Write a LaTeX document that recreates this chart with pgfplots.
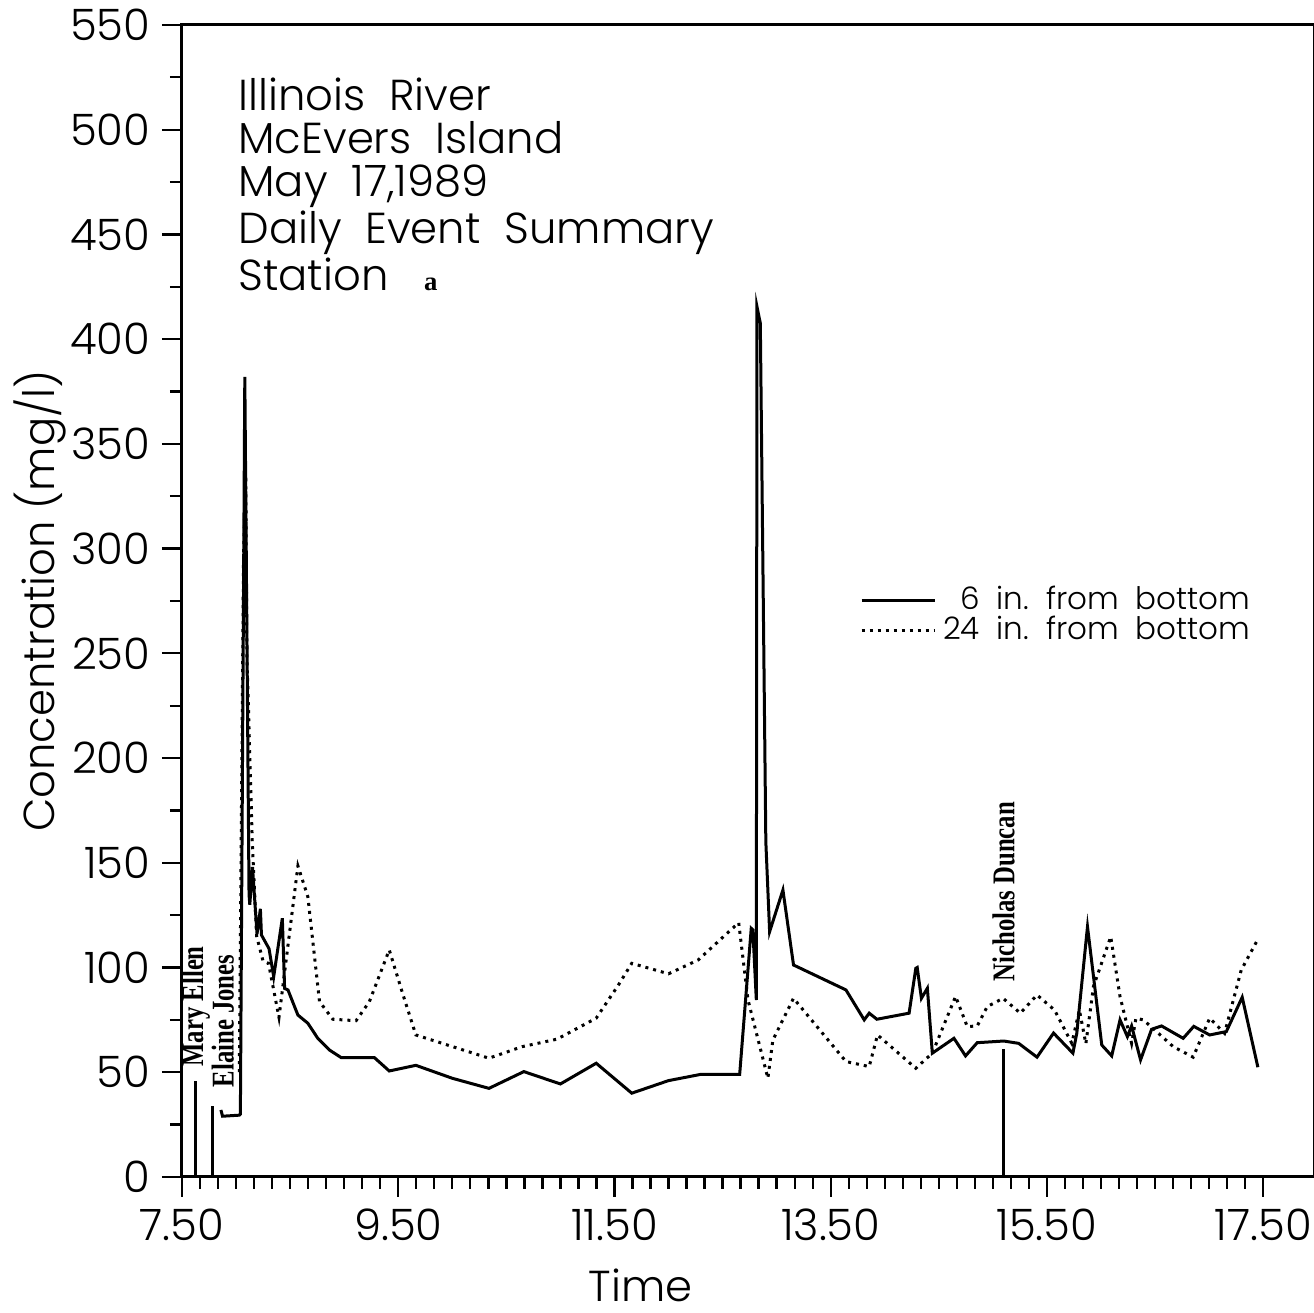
\documentclass[border=0pt]{standalone}
\usepackage{pgfplots}
\pgfplotsset{compat=1.18}
\usepackage{fontspec}
\setmainfont{Poppins}[UprightFont={* Light}]
\newfontfamily\annfont{Liberation Serif}
\newcommand\ann[1]{\scalebox{0.78}[1]{#1}}

\begin{document}
\begin{tikzpicture}
\begin{axis}[
  width=339.6pt, height=345.6pt, scale only axis,
  xmin=7.5, xmax=17.97, ymin=0, ymax=550,
  xtick={7.5,9.5,11.5,13.5,15.5,17.5},
  minor x tick num=11,
  ytick={0,50,...,550},
  minor y tick num=1,
  tick align=outside, xtick pos=bottom, ytick pos=left,
  major tick length=6pt, minor tick length=3.6pt,
  axis line style={line width=0.9pt},
  every tick/.style={black, line width=0.7pt},
  tick label style={font=\fontsize{13}{15}\selectfont},
  /pgf/number format/assume math mode=true,
  xticklabel style={/pgf/number format/.cd, fixed, fixed zerofill, precision=2},
  yticklabel style={/pgf/number format/.cd, fixed, precision=0},
  ylabel={Concentration (mg/l)},
  every axis y label/.style={at={(axis description cs:-0.1254,0.5)}, rotate=90, anchor=center,
    font=\fontsize{13}{15}\selectfont},
  xlabel={Time},
  every axis x label/.style={at={(axis description cs:0.405,0)}, anchor=north, yshift=-24pt,
    font=\fontsize{13}{15}\selectfont},
  legend style={at={(axis cs:17.45,285.5)}, anchor=north east, draw=none, fill=none,
    font=\fontsize{9.3}{9.5}\selectfont, row sep=-3.5pt, inner sep=0pt},
  legend cell align=right,
  legend image code/.code={\draw[#1] (0pt,0pt) -- (22pt,0pt);},
  clip=false,
]
% 6 in. from bottom
\addplot[black, line width=0.9pt] coordinates {
(7.860,32) (7.875,29) (8.030,29.5) (8.040,30) (8.081,382) (8.120,135) (8.127,130)
(8.152,148) (8.194,116) (8.225,128) (8.235,115.5) (8.305,109) (8.348,95.6)
(8.428,123.5) (8.449,90) (8.480,89.3) (8.572,77.3) (8.664,73.4) (8.756,66.2)
(8.864,60.6) (8.972,57) (9.279,57) (9.417,50.6) (9.663,53.3) (10.001,47.1)
(10.339,42.3) (10.662,50.3) (11.000,44.4) (11.331,54.3) (11.66,40) (12.0,46)
(12.3,49) (12.658,49) (12.765,118.7) (12.78,118) (12.812,84.5) (12.818,415.5)
(12.849,407.6) (12.90,160) (12.935,117.1) (13.058,137) (13.156,101.2)
(13.641,89.3) (13.810,75) (13.856,78.2) (13.927,75.3) (14.225,78.2)
(14.287,99.6) (14.30,100) (14.339,85.3) (14.394,90.1) (14.440,59.1)
(14.640,66.2) (14.747,57.8) (14.855,64.1) (15.100,64.9) (15.238,63.8)
(15.408,57.2) (15.561,68.7) (15.740,59.1) (15.776,68.6) (15.875,119.5)
(16.007,63) (16.099,57.8) (16.176,75) (16.244,67) (16.283,72.1) (16.366,55.9)
(16.468,70.5) (16.560,72.1) (16.760,66.2) (16.858,71.9) (17.005,67.8)
(17.159,69.4) (17.306,85.8) (17.451,52.4)
};
\addlegendentry{6\ \ in.\ \ from\ \ bottom}
% 24 in. from bottom
\addplot[black, line width=0.9pt, dash pattern=on 0.9pt off 1.5pt] coordinates {
(8.03,50) (8.07,300) (8.09,335) (8.10,250) (8.15,160) (8.19,115) (8.25,103)
(8.30,102) (8.397,76.2) (8.572,148.5) (8.664,133.8) (8.772,83.7) (8.895,75.3)
(9.110,74.6) (9.233,83.7) (9.417,108.4) (9.540,87.7) (9.663,67.8) (10.339,56.7)
(10.646,62.2) (10.969,65.8) (11.331,75.8) (11.537,91.7) (11.66,102) (12.0,97)
(12.274,103.6) (12.649,121.4) (12.735,84.5) (12.919,47.1) (12.965,65.4)
(13.156,85.3) (13.641,55.1) (13.856,52.7) (13.933,67.8) (14.287,51.9)
(14.440,59.1) (14.655,86.2) (14.763,71.8) (14.855,72.1) (14.947,81.3)
(15.094,85.3) (15.254,78.2) (15.408,86.9) (15.570,79.7) (15.730,63.8)
(15.800,79.7) (15.860,63.6) (15.930,90.9) (16.090,114.7) (16.176,86.1)
(16.283,63.8) (16.323,75.8) (16.391,75) (16.514,69.4) (16.668,62.2)
(16.852,57.2) (17.005,75.8) (17.143,68.6) (17.297,98.8) (17.451,113.5)
};
\addlegendentry{24\ \ in.\ \ from\ \ bottom}
% event markers
\addplot[black, line width=0.9pt, forget plot] coordinates {(7.626,0) (7.626,46)};
\addplot[black, line width=0.9pt, forget plot] coordinates {(7.779,0) (7.779,34)};
\addplot[black, line width=0.9pt, forget plot] coordinates {(15.10,0) (15.10,61)};

\node[rotate=90, anchor=west, inner sep=0pt, font=\annfont\bfseries\fontsize{9.5}{10}\selectfont]
  at (axis cs:7.626,52.5) {\ann{Mary Ellen}};
\node[rotate=90, anchor=west, inner sep=0pt, font=\annfont\bfseries\fontsize{9.5}{10}\selectfont]
  at (axis cs:7.878,42.5) {\ann{Elaine Jones}};
\node[rotate=90, anchor=west, inner sep=0pt, font=\annfont\bfseries\fontsize{9.5}{10}\selectfont]
  at (axis cs:15.10,93.2) {\ann{Nicholas Duncan}};

\node[anchor=north west, align=left, inner sep=0pt, font=\fontsize{13}{12.9}\selectfont]
  at (axis cs:8.016,525) {Illinois\ \ River\\McEvers\ \ Island\\May\ \ 17,1989\\Daily\ \ Event\ \ Summary\\Station\ \ \ {\annfont\bfseries\fontsize{8}{8}\selectfont a}};

\coordinate (bl) at (rel axis cs:0,0);
\coordinate (tr) at (rel axis cs:1,1);
\end{axis}
\pgfresetboundingbox
\path ([xshift=-54.6pt,yshift=-40.8pt]bl) rectangle ([yshift=7.5pt]tr);
\end{tikzpicture}
\end{document}
